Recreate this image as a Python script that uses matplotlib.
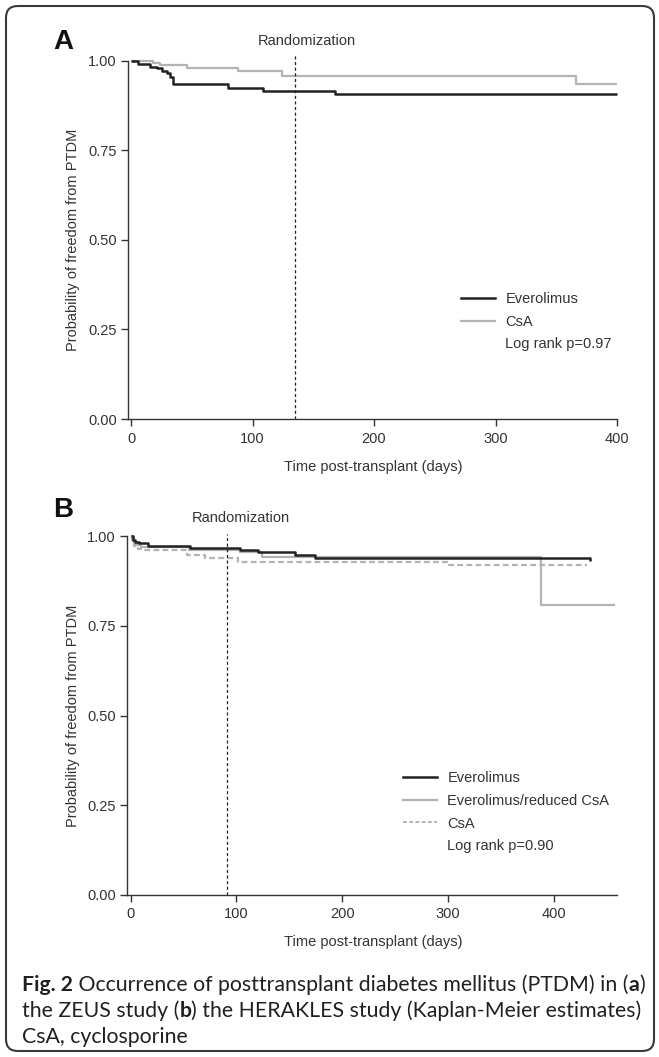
import matplotlib
matplotlib.use('Agg')
import matplotlib.pyplot as plt
from matplotlib.lines import Line2D
from matplotlib.patches import FancyBboxPatch

plt.rcParams['font.family'] = ['Liberation Sans', 'DejaVu Sans']

# ---------------- Data ----------------
# Panel A: ZEUS study
a_evero_days = [0, 6, 15.7, 21.2, 25.3, 29.4, 32.1, 34.4, 80, 108.8, 167.8, 400]
a_evero_surv = [1.0, 0.990, 0.983, 0.978, 0.972, 0.964, 0.955, 0.935, 0.923, 0.914, 0.907, 0.907]
a_csa_days = [0, 18.4, 23.9, 45.9, 88.3, 124, 365.9, 400]
a_csa_surv = [1.0, 0.993, 0.987, 0.980, 0.971, 0.956, 0.934, 0.934]
a_random_day = 135
a_legend = ['Everolimus', 'CsA', 'Log rank p=0.97']

# Panel B: HERAKLES study
b_evero_days = [0, 2, 3.8, 8, 16.4, 55.8, 103, 120.4, 155, 174, 434]
b_evero_surv = [1.0, 0.990, 0.984, 0.980, 0.973, 0.967, 0.962, 0.955, 0.947, 0.940, 0.931]
b_red_days = [0, 2, 5, 10, 55, 103, 124, 388.4, 457.7]
b_red_surv = [1.0, 0.985, 0.975, 0.968, 0.962, 0.955, 0.941, 0.808, 0.808]
b_csa_days = [0, 1, 3, 7, 12, 52.7, 70, 101.5, 300, 432]
b_csa_surv = [1.0, 0.985, 0.972, 0.965, 0.961, 0.947, 0.938, 0.928, 0.919, 0.919]
b_random_day = 91
b_legend = ['Everolimus', 'Everolimus/reduced CsA', 'CsA', 'Log rank p=0.90']

y_ticks = [0.0, 0.25, 0.5, 0.75, 1.0]
y_ticklabels = ['0.00', '0.25', '0.50', '0.75', '1.00']
a_xticks = [0, 100, 200, 300, 400]
b_xticks = [0, 100, 200, 300, 400]

ylabel = 'Probability of freedom from PTDM'
xlabel = 'Time post-transplant (days)'

# ---------------- Styles ----------------
W, H = 659, 1057
TXT = '#333333'
BLACK = '#222222'
GRAY = '#b3b3b3'
FS = 10.5

fig = plt.figure(figsize=(W / 100, H / 100), dpi=100)


def fx(px):
    return px / W


def fy(py):
    return 1 - py / H


def make_axes(left_px, right_px, y0_px, y1_px, xlim):
    top_val = 1.02
    ppu = y0_px - y1_px
    top_px = y0_px - ppu * top_val
    ax = fig.add_axes([fx(left_px), fy(y0_px), (right_px - left_px) / W, (y0_px - top_px) / H])
    ax.set_ylim(0, top_val)
    ax.set_xlim(*xlim)
    for s in ['top', 'right']:
        ax.spines[s].set_visible(False)
    for s in ['left', 'bottom']:
        ax.spines[s].set_color(TXT)
        ax.spines[s].set_linewidth(1.0)
    ax.spines['left'].set_bounds(0, 1)
    ax.set_yticks(y_ticks)
    ax.set_yticklabels(y_ticklabels)
    ax.tick_params(axis='both', direction='out', length=5, width=1.0, color=TXT,
                   labelcolor=TXT, labelsize=FS, pad=3)
    ax.tick_params(axis='x', pad=4)
    return ax


def step(ax, d, s, **kw):
    ax.step(d, s, where='post', solid_capstyle='butt', **kw)


# Panel A
axA = make_axes(128, 617, 419, 60.5, (-2.5, 400))
axA.set_xticks(a_xticks)
step(axA, a_csa_days, a_csa_surv, color=GRAY, lw=1.6, clip_on=False)
step(axA, a_evero_days, a_evero_surv, color=BLACK, lw=1.8, clip_on=False)
axA.plot([a_random_day, a_random_day], [0, 1.015], color=BLACK, lw=0.9,
         linestyle=(0, (2.5, 2)), clip_on=False)
hA = [Line2D([], [], color=BLACK, lw=1.8), Line2D([], [], color=GRAY, lw=1.6),
      Line2D([], [], color='none')]
axA.legend(hA, a_legend, loc='upper left', bbox_to_anchor=(fx(461), fy(292)),
           bbox_transform=fig.transFigure, frameon=False, fontsize=FS,
           handlelength=2.3, handletextpad=0.75, labelspacing=0.6,
           borderpad=0, borderaxespad=0, labelcolor=TXT)

# Panel B
axB = make_axes(127, 617, 895, 536, (-3.6, 460))
axB.set_xticks(b_xticks)
step(axB, b_red_days, b_red_surv, color=GRAY, lw=1.6, clip_on=False)
step(axB, b_csa_days, b_csa_surv, color=GRAY, lw=1.6, linestyle=(0, (2.6, 1.5)), clip_on=False)
step(axB, b_evero_days, b_evero_surv, color=BLACK, lw=1.8, clip_on=False)
axB.plot([b_random_day, b_random_day], [0, 1.005], color=BLACK, lw=0.9,
         linestyle=(0, (2.5, 2)), clip_on=False)
hB = [Line2D([], [], color=BLACK, lw=1.8), Line2D([], [], color=GRAY, lw=1.6),
      Line2D([], [], color=GRAY, lw=1.4, linestyle=(0, (2.0, 1.2))),
      Line2D([], [], color='none')]
axB.legend(hB, b_legend, loc='upper left', bbox_to_anchor=(fx(403), fy(771)),
           bbox_transform=fig.transFigure, frameon=False, fontsize=FS,
           handlelength=2.3, handletextpad=0.75, labelspacing=0.6,
           borderpad=0, borderaxespad=0, labelcolor=TXT)

# Axis labels, panel letters, randomization text
for yc in [240, 716]:
    fig.text(fx(73), fy(yc), ylabel, rotation=90, ha='center', va='center',
             fontsize=FS, color=TXT)
for yc in [467, 942]:
    fig.text(fx(373), fy(yc), xlabel, ha='center', va='center', fontsize=FS, color=TXT)
fig.text(fx(63), fy(42), 'A', ha='center', va='center', fontsize=20, fontweight='bold',
         color='#111111')
fig.text(fx(63), fy(510), 'B', ha='center', va='center', fontsize=20, fontweight='bold',
         color='#111111')
fig.text(fx(307), fy(41), 'Randomization', ha='center', va='center', fontsize=FS, color=TXT)
fig.text(fx(241), fy(518), 'Randomization', ha='center', va='center', fontsize=FS, color=TXT)

# Outer rounded box
box = FancyBboxPatch((fx(6), fy(1051)), fx(654) - fx(6), fy(6) - fy(1051),
                     boxstyle='round,pad=0,rounding_size=0.018',
                     transform=fig.transFigure, facecolor='none',
                     edgecolor='#3a3a3a', lw=1.5, mutation_aspect=W / H)
fig.patches.append(box)

# Caption with bold pieces
cap_lines = [
    [('Fig. 2', 'bold'), (' Occurrence of posttransplant diabetes mellitus (PTDM) in (', 'normal'),
     ('a', 'bold'), (')', 'normal')],
    [('the ZEUS study (', 'normal'), ('b', 'bold'),
     (') the HERAKLES study (Kaplan-Meier estimates)', 'normal')],
    [('CsA, cyclosporine', 'normal')],
]
cap_y = [985, 1011, 1037]
cap_font = ['Lato', 'DejaVu Sans']
renderer = fig.canvas.get_renderer()
target_w = 640 - 22
probe = 12.0
tot = 0
for txt, wgt in cap_lines[0]:
    t = fig.text(0, 0, txt, fontsize=probe, fontweight=wgt, family=cap_font)
    tot += t.get_window_extent(renderer).width
    t.remove()
cap_fs = probe * target_w / tot
for line, yc in zip(cap_lines, cap_y):
    xp = 22
    for txt, wgt in line:
        t = fig.text(fx(xp), fy(yc), txt, fontsize=cap_fs, fontweight=wgt, family=cap_font,
                     color='#231f20', ha='left', va='center')
        xp += t.get_window_extent(renderer).width

fig.savefig('out.png', dpi=100)
